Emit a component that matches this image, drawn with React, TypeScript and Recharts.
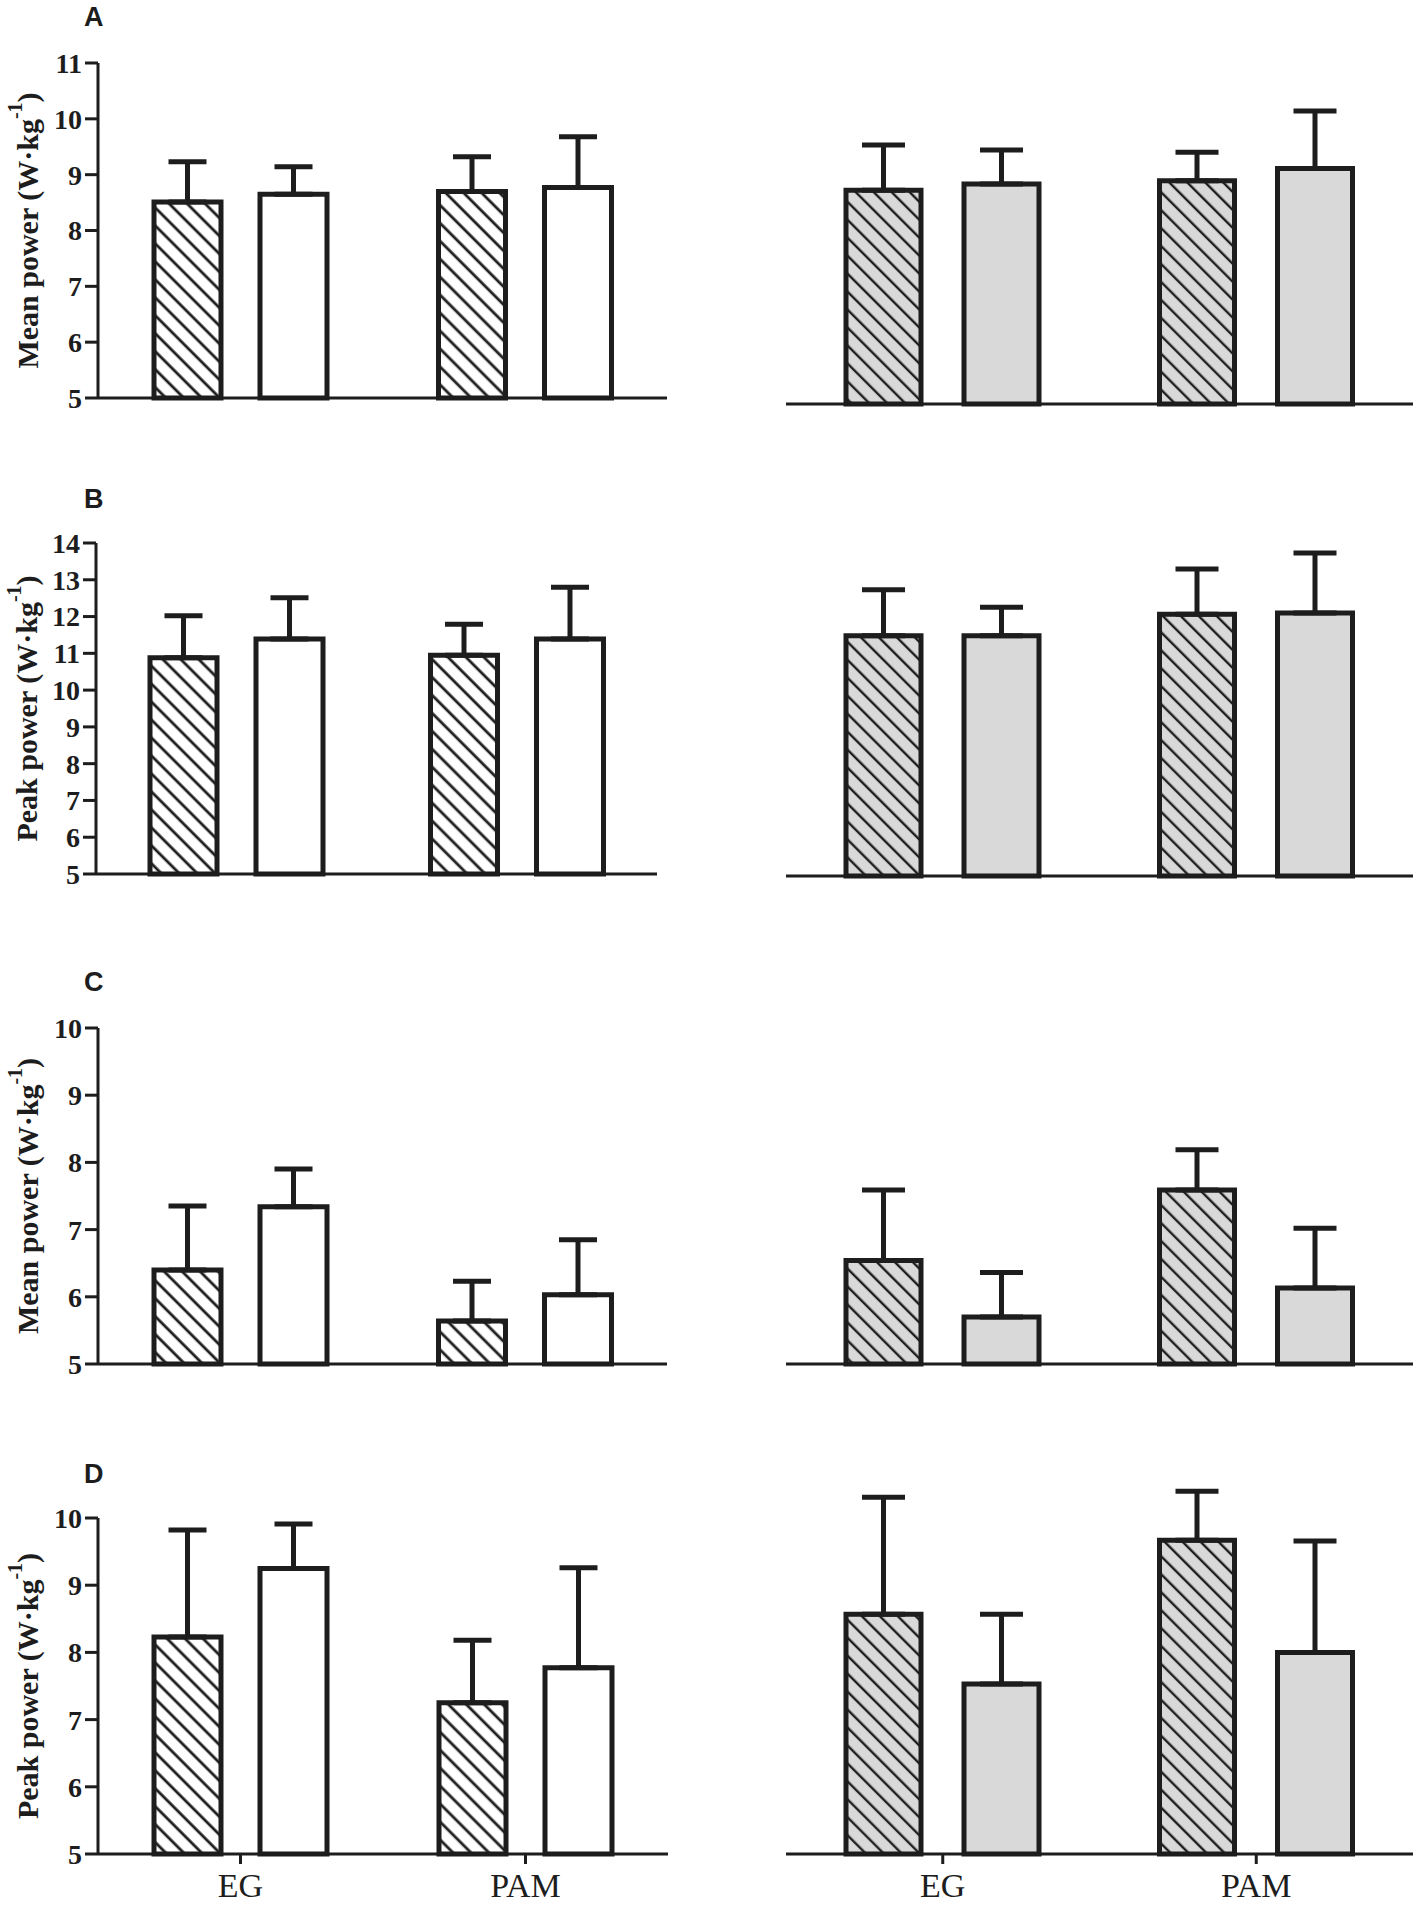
import React from 'react'
import { Bar, BarChart, ErrorBar, XAxis, YAxis } from 'recharts'

// groups on the x axis
const groups = ['EG', 'PAM']

// y ticks per row
const ticksA = [5, 6, 7, 8, 9, 10, 11]
const ticksB = [5, 6, 7, 8, 9, 10, 11, 12, 13, 14]
const ticksC = [5, 6, 7, 8, 9, 10]
const ticksD = [5, 6, 7, 8, 9, 10]

// A - mean power
const aLeftHatch = [8.51, 8.7]
const aLeftHatchSd = [0.72, 0.62]
const aLeftOpen = [8.65, 8.77]
const aLeftOpenSd = [0.49, 0.91]
const aRightHatch = [8.83, 9.0]
const aRightHatchSd = [0.81, 0.51]
const aRightOpen = [8.94, 9.22]
const aRightOpenSd = [0.61, 1.03]

// B - peak power
const bLeftHatch = [10.88, 10.95]
const bLeftHatchSd = [1.14, 0.84]
const bLeftOpen = [11.39, 11.39]
const bLeftOpenSd = [1.12, 1.41]
const bRightHatch = [11.53, 12.12]
const bRightHatchSd = [1.25, 1.23]
const bRightOpen = [11.53, 12.15]
const bRightOpenSd = [0.78, 1.63]

// C - mean power
const cLeftHatch = [6.4, 5.64]
const cLeftHatchSd = [0.95, 0.59]
const cLeftOpen = [7.34, 6.03]
const cLeftOpenSd = [0.56, 0.82]
const cRightHatch = [6.54, 7.59]
const cRightHatchSd = [1.05, 0.6]
const cRightOpen = [5.7, 6.13]
const cRightOpenSd = [0.66, 0.89]

// D - peak power
const dLeftHatch = [8.23, 7.25]
const dLeftHatchSd = [1.59, 0.93]
const dLeftOpen = [9.25, 7.77]
const dLeftOpenSd = [0.66, 1.49]
const dRightHatch = [8.57, 9.67]
const dRightHatchSd = [1.74, 0.73]
const dRightOpen = [7.53, 8.0]
const dRightOpenSd = [1.04, 1.66]

const INK = '#1d1d1d'
const GRAY = '#d9d9d9'
const SERIF = '"Liberation Serif", "Times New Roman", serif'
const SANS = '"Liberation Sans", Arial, sans-serif'
const MT = 20

const build = (hatch: number[], hatchSd: number[], open: number[], openSd: number[]) =>
  groups.map((g, i) => ({
    group: g,
    hatch: hatch[i],
    hatchErr: [0, hatchSd[i]],
    open: open[i],
    openErr: [0, openSd[i]],
  }))

function YLabel({ text, cx, cy }: { text: string; cx: number; cy: number }) {
  return (
    <text
      x={cx}
      y={cy}
      transform={`rotate(-90, ${cx}, ${cy})`}
      textAnchor='middle'
      dominantBaseline='central'
      fontFamily={SERIF}
      fontWeight='bold'
      fontSize={30}
      fill={INK}
    >
      {text} (W·kg
      <tspan dy={-12} fontSize={20}>-1</tspan>
      <tspan dy={12}>)</tspan>
    </text>
  )
}

type PanelProps = {
  id: string
  data: any[]
  left: number
  plotTop: number
  plotBottom: number
  plotW: number
  yAxisW: number
  marginLeft: number
  marginRight: number
  domain: [number, number]
  ticks?: number[]
  ylabel?: string
  labelX?: number
  names: boolean
  fill: string
  barSize: number
  barGap: number
  capW: number
  hatchW: number
}

function Panel(p: PanelProps) {
  const plotH = p.plotBottom - p.plotTop
  const xAxisH = p.names ? 53 : 20
  const width = p.marginLeft + p.yAxisW + p.plotW + p.marginRight
  const height = MT + plotH + xAxisH
  const showY = !!p.ticks
  return (
    <div style={{ position: 'absolute', left: p.left, top: p.plotTop - MT }}>
      <BarChart
        width={width}
        height={height}
        data={p.data}
        margin={{ top: MT, right: p.marginRight, left: p.marginLeft, bottom: 0 }}
        barSize={p.barSize}
        barGap={p.barGap}
      >
        <defs>
          <pattern
            id={`hatch-${p.id}`}
            patternUnits='userSpaceOnUse'
            width={12.7}
            height={12.7}
            patternTransform='rotate(-45)'
          >
            <rect width={12.7} height={12.7} fill={p.fill} />
            <line x1={6} y1={0} x2={6} y2={12.7} stroke={INK} strokeWidth={p.hatchW} />
          </pattern>
        </defs>
        <XAxis
          dataKey='group'
          interval={0}
          height={xAxisH}
          axisLine={{ stroke: INK, strokeWidth: 3 }}
          tickLine={{ stroke: INK, strokeWidth: 3 }}
          tickSize={10}
          tickMargin={9}
          tick={p.names ? { fill: INK, fontSize: 34, fontFamily: SERIF } : false}
        />
        {showY ? (
          <YAxis
            domain={p.domain}
            ticks={p.ticks}
            interval={0}
            width={p.yAxisW}
            axisLine={{ stroke: INK, strokeWidth: 3 }}
            tickLine={{ stroke: INK, strokeWidth: 3 }}
            tickSize={13}
            tickMargin={3}
            tick={{ fill: INK, fontSize: 28, fontFamily: SERIF, fontWeight: 'bold' }}
            label={<YLabel text={p.ylabel || ''} cx={p.labelX || 27} cy={MT + plotH / 2} />}
          />
        ) : (
          <YAxis hide domain={p.domain} />
        )}
        <Bar
          dataKey='hatch'
          fill={`url(#hatch-${p.id})`}
          stroke={INK}
          strokeWidth={5}
          isAnimationActive={false}
        >
          <ErrorBar dataKey='hatchErr' direction='y' width={p.capW} stroke={INK} strokeWidth={5} />
        </Bar>
        <Bar dataKey='open' fill={p.fill} stroke={INK} strokeWidth={5} isAnimationActive={false}>
          <ErrorBar dataKey='openErr' direction='y' width={p.capW} stroke={INK} strokeWidth={5} />
        </Bar>
      </BarChart>
    </div>
  )
}

const leftBase = { left: 0, marginLeft: 0, fill: '#ffffff', barSize: 67, barGap: 39, capW: 19, hatchW: 2.8 }
const rightBase = {
  left: 776,
  marginLeft: 10,
  marginRight: 3,
  yAxisW: 0,
  plotW: 627,
  fill: GRAY,
  barSize: 75,
  barGap: 43,
  capW: 21.5,
  hatchW: 2.4,
}

export default function App() {
  return (
    <div style={{ position: 'absolute', left: 0, top: 0, width: 1418, height: 1907, background: '#fff' }}>
      <svg width={1418} height={1907} style={{ position: 'absolute', left: 0, top: 0 }}>
        {[
          ['A', 26],
          ['B', 508],
          ['C', 991],
          ['D', 1483],
        ].map(([t, y]) => (
          <text key={t} x={84} y={y} fontFamily={SANS} fontWeight='bold' fontSize={27} fill={INK}>
            {t}
          </text>
        ))}
      </svg>

      <Panel
        {...leftBase}
        id='a1'
        data={build(aLeftHatch, aLeftHatchSd, aLeftOpen, aLeftOpenSd)}
        plotTop={63}
        plotBottom={398}
        yAxisW={98}
        plotW={569}
        marginRight={10}
        domain={[5, 11]}
        ticks={ticksA}
        ylabel='Mean power'
        names={false}
      />
      <Panel
        {...rightBase}
        id='a2'
        data={build(aRightHatch, aRightHatchSd, aRightOpen, aRightOpenSd)}
        plotTop={69}
        plotBottom={404}
        domain={[5, 11]}
        names={false}
      />

      <Panel
        {...leftBase}
        id='b1'
        data={build(bLeftHatch, bLeftHatchSd, bLeftOpen, bLeftOpenSd)}
        plotTop={543}
        plotBottom={874}
        yAxisW={96}
        plotW={561}
        marginRight={20}
        domain={[5, 14]}
        ticks={ticksB}
        ylabel='Peak power'
        labelX={26}
        names={false}
      />
      <Panel
        {...rightBase}
        id='b2'
        data={build(bRightHatch, bRightHatchSd, bRightOpen, bRightOpenSd)}
        plotTop={545}
        plotBottom={876}
        domain={[5, 14]}
        names={false}
      />

      <Panel
        {...leftBase}
        id='c1'
        data={build(cLeftHatch, cLeftHatchSd, cLeftOpen, cLeftOpenSd)}
        plotTop={1028}
        plotBottom={1364}
        yAxisW={98}
        plotW={569}
        marginRight={10}
        domain={[5, 10]}
        ticks={ticksC}
        ylabel='Mean power'
        names={false}
      />
      <Panel
        {...rightBase}
        id='c2'
        data={build(cRightHatch, cRightHatchSd, cRightOpen, cRightOpenSd)}
        plotTop={1028}
        plotBottom={1364}
        domain={[5, 10]}
        names={false}
      />

      <Panel
        {...leftBase}
        id='d1'
        data={build(dLeftHatch, dLeftHatchSd, dLeftOpen, dLeftOpenSd)}
        plotTop={1518}
        plotBottom={1854}
        yAxisW={98}
        plotW={570}
        marginRight={10}
        domain={[5, 10]}
        ticks={ticksD}
        ylabel='Peak power'
        names={true}
      />
      <Panel
        {...rightBase}
        id='d2'
        data={build(dRightHatch, dRightHatchSd, dRightOpen, dRightOpenSd)}
        plotTop={1451}
        plotBottom={1854}
        domain={[5, 11]}
        names={true}
      />
    </div>
  )
}
